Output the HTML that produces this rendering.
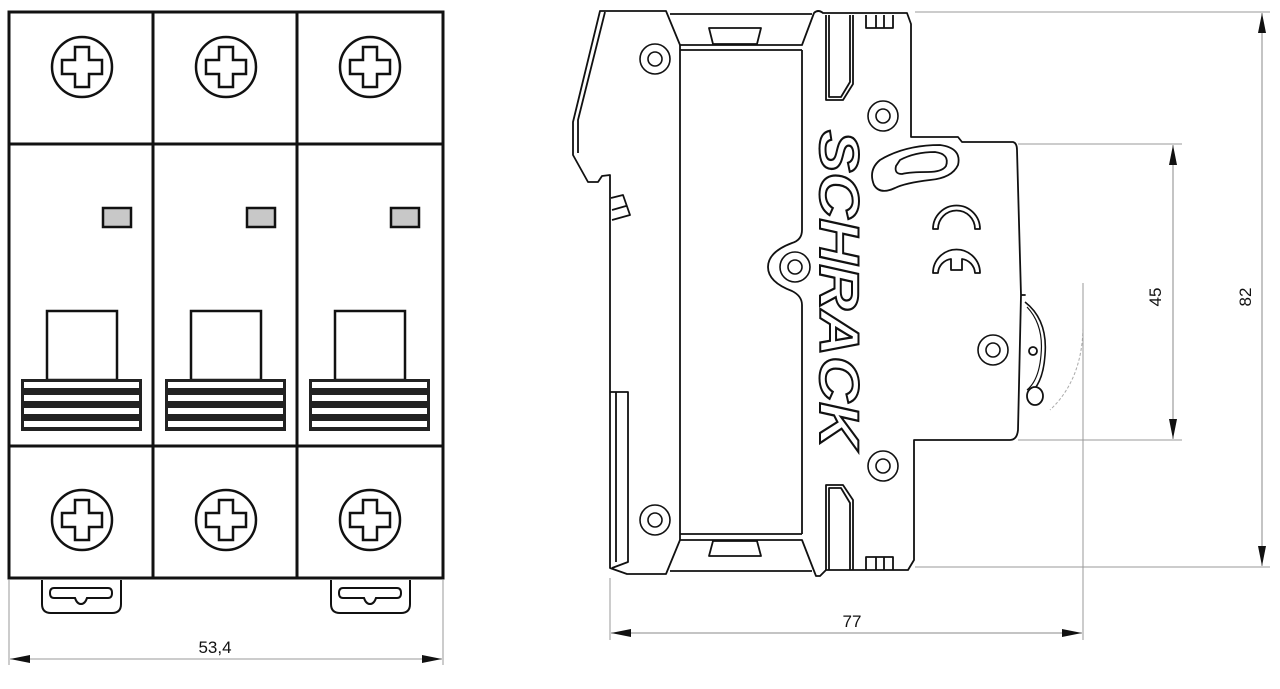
<!DOCTYPE html>
<html><head><meta charset="utf-8"><style>html,body{margin:0;padding:0;background:#fff}svg{display:block}</style></head><body>
<svg width="1280" height="689" viewBox="0 0 1280 689" xmlns="http://www.w3.org/2000/svg" font-family="Liberation Sans, sans-serif">
<defs>
<g id="screw"><circle r="30" fill="#fff" stroke="#111" stroke-width="2.5"/><path d="M-7,-20 H7 V-7 H20 V7 H7 V20 H-7 V7 H-20 V-7 H-7 Z" fill="#fff" stroke="#111" stroke-width="2.5"/></g>
<g id="tog"><rect x="0" y="0" width="70" height="69" fill="#fff" stroke="#111" stroke-width="2.5"/>
<rect x="-26" y="68" width="121" height="52" fill="#222"/>
<rect x="-23" y="71" width="115" height="6" fill="#fff"/><rect x="-23" y="84" width="115" height="6" fill="#fff"/><rect x="-23" y="97" width="115" height="6" fill="#fff"/><rect x="-23" y="110" width="115" height="6" fill="#fff"/></g>
<g id="clip"><path d="M0,0 V24 Q0,33 9,33 H70 Q79,33 79,24 V0" fill="#fff" stroke="#111" stroke-width="2"/><path d="M12,8 H66 Q70,8 70,13 Q70,18 66,18 H45 Q43,24 39,24 Q35,24 33,18 H12 Q8,18 8,13 Q8,8 12,8 Z" fill="none" stroke="#111" stroke-width="2"/></g>
<g id="ring"><circle r="15" fill="#fff" stroke="#111" stroke-width="1.6"/><circle r="7" fill="none" stroke="#111" stroke-width="1.6"/></g>
<marker id="ar" markerWidth="20" markerHeight="8" refX="20" refY="4" orient="auto" markerUnits="userSpaceOnUse"><path d="M0,0 L20,4 L0,8 Z" fill="#111"/></marker>
<marker id="al" markerWidth="20" markerHeight="8" refX="0" refY="4" orient="auto" markerUnits="userSpaceOnUse"><path d="M20,0 L0,4 L20,8 Z" fill="#111"/></marker>
</defs>
<!-- front view -->
<rect x="9" y="12" width="434" height="566" fill="#fff" stroke="#111" stroke-width="3"/>
<line x1="153" y1="12" x2="153" y2="578" stroke="#111" stroke-width="3"/>
<line x1="297" y1="12" x2="297" y2="578" stroke="#111" stroke-width="3"/>
<line x1="9" y1="144" x2="443" y2="144" stroke="#111" stroke-width="3"/>
<line x1="9" y1="446" x2="443" y2="446" stroke="#111" stroke-width="3"/>
<use href="#screw" x="82" y="67"/><use href="#screw" x="226" y="67"/><use href="#screw" x="370" y="67"/>
<use href="#screw" x="82" y="520"/><use href="#screw" x="226" y="520"/><use href="#screw" x="370" y="520"/>
<rect x="103" y="208" width="28" height="19" fill="#c8c8c8" stroke="#111" stroke-width="2.5"/>
<rect x="247" y="208" width="28" height="19" fill="#c8c8c8" stroke="#111" stroke-width="2.5"/>
<rect x="391" y="208" width="28" height="19" fill="#c8c8c8" stroke="#111" stroke-width="2.5"/>
<use href="#tog" x="47" y="311"/><use href="#tog" x="191" y="311"/><use href="#tog" x="335" y="311"/>
<use href="#clip" x="42" y="580"/><use href="#clip" x="331" y="580"/>
<line x1="9" y1="580" x2="9" y2="665" stroke="#999" stroke-width="1"/>
<line x1="443" y1="580" x2="443" y2="665" stroke="#999" stroke-width="1"/>
<line x1="10" y1="659" x2="442" y2="659" stroke="#999" stroke-width="1" marker-start="url(#al)" marker-end="url(#ar)"/>
<text x="215" y="653" font-size="17" text-anchor="middle" fill="#111">53,4</text>
<!-- side view -->
<g fill="none" stroke="#111" stroke-width="1.8" stroke-linejoin="round">
<path d="M600,11 H666 L680,45 H802 L814,13 Q818,9 823,13 H907 L911,24 V137 H958 L962,142 H1013 Q1017,143 1017,150 L1021,295 H1025 L1021,295 L1018,430 Q1017,440 1010,440 H914 V560 L908,570 H826 L820,576 H816 L802,540 H680 L666,574 H627 L610,568 V175 L602,176 L598,182 H588 L573,155 V122 L600,11 Z" fill="#fff"/>
<path d="M605,12 L578,120 V153"/>
<line x1="670" y1="14" x2="812" y2="14"/><line x1="670" y1="571" x2="812" y2="571"/>
<line x1="680" y1="50" x2="802" y2="50"/><line x1="680" y1="534" x2="802" y2="534"/>
<line x1="680" y1="45" x2="680" y2="540"/>
<path d="M802,50 V230 Q802,240 792,243 Q768,252 768,267 Q768,282 792,291 Q802,296 802,305 V534"/>
<path d="M709,28 H761 L757,44 H713 Z"/>
<path d="M713,541 H757 L761,556 H709 Z"/>
<path d="M826,15 V100 H843 L853,84 V15 M829,15 V97 H841 L850,82 V15"/>
<path d="M826,570 V485 H843 L853,500 V570 M829,570 V488 H841 L850,503 V570"/>
<path d="M866,15 V28 H893 V15 M876,15 V28 M884,15 V28"/>
<path d="M866,570 V557 H893 V570 M876,557 V570 M884,557 V570"/>
<path d="M611,198 L623,195 L630,215 L612,220 M612,210 L626,206"/>
<path d="M610,392 H628 V562 L612,568 M616,392 V562"/>
<path d="M880,160 Q905,145 940,145 Q962,148 958,165 Q952,178 930,180 Q905,183 895,188 Q880,195 874,185 Q868,170 880,160 Z"/>
<path d="M900,160 Q915,152 935,152 Q950,154 946,166 Q942,172 928,172 Q910,172 902,174 Q894,174 896,166 Z"/>
<path d="M933,229 A20,20 0 0 1 980,229 H975 A15,15 0 0 0 938,229 Z"/>
<path d="M933,273 A20,20 0 0 1 980,273 H975 A15,15 0 0 0 962,259 V270 H951 V259 A15,15 0 0 0 938,273 Z"/>
<path d="M1025,302 Q1048,320 1045,355 Q1043,385 1028,395" stroke-width="1.6"/>
<path d="M1027,307 Q1044,325 1041,355 Q1039,380 1027,390" stroke-width="1.2"/>
<circle cx="1033" cy="351" r="4"/>
<ellipse cx="1035" cy="396" rx="8" ry="9" fill="#fff"/>
</g>
<use href="#ring" x="655" y="59"/><use href="#ring" x="883" y="116"/><use href="#ring" x="795" y="267"/>
<use href="#ring" x="993" y="350"/><use href="#ring" x="655" y="520"/><use href="#ring" x="883" y="466"/>
<text transform="translate(820,130) rotate(90)" font-size="56" font-weight="bold" font-style="italic" fill="#fff" stroke="#111" stroke-width="2" textLength="318" lengthAdjust="spacingAndGlyphs">SCHRACK</text>
<path d="M1083,328 Q1082,380 1050,410" fill="none" stroke="#aaa" stroke-width="1" stroke-dasharray="3,2"/>
<!-- dimensions side -->
<g stroke="#999" stroke-width="1" fill="none">
<line x1="915" y1="12" x2="1270" y2="12"/><line x1="915" y1="567" x2="1270" y2="567"/>
<line x1="1018" y1="144" x2="1182" y2="144"/><line x1="1018" y1="440" x2="1182" y2="440"/>
<line x1="1083" y1="283" x2="1083" y2="640"/><line x1="610" y1="578" x2="610" y2="640"/>
</g>
<line x1="1262" y1="13" x2="1262" y2="566" stroke="#888" stroke-width="1" marker-start="url(#al)" marker-end="url(#ar)"/>
<line x1="1173" y1="145" x2="1173" y2="439" stroke="#888" stroke-width="1" marker-start="url(#al)" marker-end="url(#ar)"/>
<line x1="611" y1="633" x2="1082" y2="633" stroke="#888" stroke-width="1" marker-start="url(#al)" marker-end="url(#ar)"/>
<text x="852" y="627" font-size="17" text-anchor="middle" fill="#111">77</text>
<text transform="translate(1161,297) rotate(-90)" font-size="17" text-anchor="middle" fill="#111">45</text>
<text transform="translate(1251,297) rotate(-90)" font-size="17" text-anchor="middle" fill="#111">82</text>
</svg>
</body></html>
